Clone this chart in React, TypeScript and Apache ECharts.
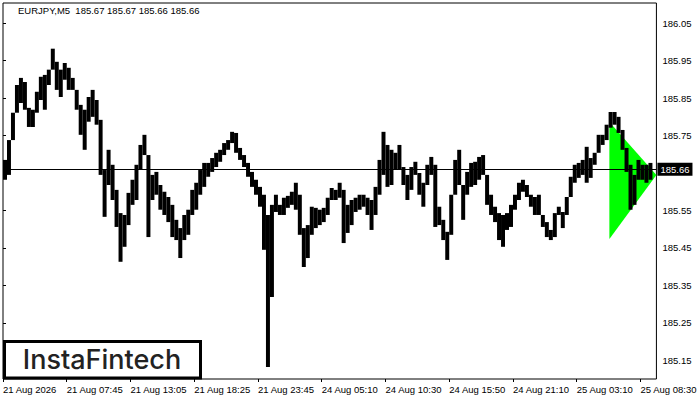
import React, { useEffect, useRef } from "react";
import * as echarts from "echarts";

const chartTitle = "EURJPY,M5  185.67 185.67 185.66 185.66";
const timeLabels = [
  "21 Aug 2026", "21 Aug 07:45", "21 Aug 13:05", "21 Aug 18:25", "21 Aug 23:45",
  "24 Aug 05:10", "24 Aug 10:30", "24 Aug 15:50", "24 Aug 21:10", "25 Aug 03:10", "25 Aug 08:30",
];
const slotsPerLabel = 16;
const totalSlots = 164;
const priceTicks = [185.15, 185.25, 185.35, 185.45, 185.55, 185.65, 185.75, 185.85, 185.95, 186.05];
// the 185.65 label sits under the current-price box, so it is not written
const hiddenPriceLabel = 185.65;
const priceMin = 185.1;
const priceMax = 186.104;
const lastPrice = 185.663;

// each slot groups a few M5 bars: high and low of the slot
const highs = [
  185.685, 185.738, 185.800, 185.885, 185.904, 185.893, 185.824, 185.819, 185.867, 185.907,
  185.912, 185.926, 185.982, 185.947, 185.926, 185.944, 185.931, 185.904, 185.872, 185.832,
  185.819, 185.853, 185.872, 185.845, 185.792, 185.658, 185.712, 185.672, 185.605, 185.543,
  185.538, 185.597, 185.632, 185.672, 185.725, 185.752, 185.698, 185.645, 185.653, 185.618,
  185.600, 185.586, 185.565, 185.525, 185.503, 185.538, 185.552, 185.605, 185.624, 185.658,
  185.677, 185.677, 185.690, 185.704, 185.712, 185.730, 185.738, 185.760, 185.757, 185.717,
  185.698, 185.677, 185.653, 185.632, 185.613, 185.592, 185.538, 185.565, 185.592, 185.565,
  185.584, 185.589, 185.600, 185.624, 185.592, 185.503, 185.511, 185.560, 185.557, 185.552,
  185.557, 185.584, 185.610, 185.605, 185.624, 185.605, 185.565, 185.578, 185.584, 185.592,
  185.592, 185.584, 185.578, 185.613, 185.685, 185.760, 185.725, 185.712, 185.704, 185.725,
  185.666, 185.645, 185.666, 185.680, 185.650, 185.624, 185.672, 185.693, 185.672, 185.560,
  185.525, 185.493, 185.578, 185.685, 185.712, 185.618, 185.653, 185.677, 185.680, 185.693,
  185.698, 185.645, 185.592, 185.560, 185.543, 185.538, 185.543, 185.565, 185.592, 185.624,
  185.632, 185.618, 185.592, 185.586, 185.592, 185.538, 185.519, 185.498, 185.543, 185.560,
  185.546, 185.586, 185.640, 185.672, 185.677, 185.685, 185.720, 185.690, 185.704, 185.752,
  185.752, 185.779, 185.813, 185.813, 185.800, 185.765, 185.717, 185.672, 185.645, 185.685,
  185.672, 185.672, 185.677,
];
const lows = [
  185.632, 185.645, 185.738, 185.811, 185.837, 185.819, 185.773, 185.773, 185.811, 185.845,
  185.819, 185.885, 185.926, 185.872, 185.853, 185.899, 185.872, 185.872, 185.819, 185.752,
  185.712, 185.787, 185.800, 185.779, 185.645, 185.533, 185.618, 185.578, 185.506, 185.413,
  185.453, 185.511, 185.565, 185.578, 185.658, 185.712, 185.479, 185.578, 185.592, 185.552,
  185.538, 185.519, 185.479, 185.471, 185.423, 185.471, 185.485, 185.538, 185.552, 185.592,
  185.613, 185.640, 185.653, 185.666, 185.680, 185.698, 185.712, 185.730, 185.704, 185.685,
  185.666, 185.640, 185.613, 185.592, 185.560, 185.445, 185.132, 185.319, 185.546, 185.538,
  185.538, 185.557, 185.565, 185.552, 185.485, 185.399, 185.423, 185.485, 185.503, 185.511,
  185.519, 185.538, 185.578, 185.578, 185.584, 185.463, 185.490, 185.511, 185.546, 185.552,
  185.560, 185.538, 185.498, 185.538, 185.592, 185.645, 185.613, 185.618, 185.658, 185.658,
  185.618, 185.578, 185.605, 185.645, 185.592, 185.560, 185.618, 185.645, 185.506, 185.511,
  185.471, 185.418, 185.485, 185.592, 185.618, 185.525, 185.592, 185.613, 185.618, 185.632,
  185.645, 185.565, 185.538, 185.519, 185.471, 185.453, 185.498, 185.506, 185.552, 185.578,
  185.600, 185.586, 185.560, 185.538, 185.565, 185.506, 185.479, 185.471, 185.479, 185.538,
  185.503, 185.538, 185.586, 185.624, 185.637, 185.645, 185.624, 185.637, 185.672, 185.704,
  185.725, 185.738, 185.771, 185.779, 185.757, 185.712, 185.653, 185.552, 185.565, 185.632,
  185.632, 185.624, 185.632,
];

// bullish pennant (triangle) vertices
const pennantSlot = [152.2, 152.2, 164];
const pennantPrice = [185.786, 185.474, 185.645];

const FONT = "Liberation Sans";

export default function App() {
  const ref = useRef<HTMLDivElement>(null);

  useEffect(() => {
    document.body.style.margin = "0";
    if (!ref.current) return;
    const chart = echarts.init(ref.current, undefined, { renderer: "svg" });

    const tickSlots = timeLabels.map((_, i) => i * slotsPerLabel);
    const barData = highs.map((h, i) => [i + 0.5, lows[i], h]);
    const pennantData = pennantSlot.map((s, i) => [s, pennantPrice[i]]);

    chart.setOption({
      animation: false,
      backgroundColor: "#fff",
      grid: {
        left: 3,
        top: 3,
        right: 41,
        bottom: 21,
        show: true,
        borderColor: "#000",
        borderWidth: 1,
        backgroundColor: "transparent",
      },
      xAxis: {
        type: "value",
        min: 0,
        max: totalSlots,
        axisLine: { show: false },
        splitLine: { show: false },
        axisTick: {
          show: true,
          customValues: tickSlots,
          length: 3,
          lineStyle: { color: "#000" },
        },
        axisLabel: {
          customValues: tickSlots,
          formatter: (v: number) => timeLabels[Math.round(v / slotsPerLabel)] ?? "",
          align: "left",
          margin: 5,
          fontSize: 9.5,
          fontFamily: FONT,
          color: "#000",
        },
      },
      yAxis: {
        type: "value",
        position: "right",
        min: priceMin,
        max: priceMax,
        axisLine: { show: false },
        splitLine: { show: false },
        axisTick: {
          show: true,
          customValues: priceTicks,
          length: 3,
          lineStyle: { color: "#000" },
        },
        axisLabel: {
          customValues: priceTicks.filter((t) => t !== hiddenPriceLabel),
          formatter: (v: number) => v.toFixed(2),
          margin: 6,
          fontSize: 9.5,
          fontFamily: FONT,
          color: "#000",
        },
      },
      series: [
        {
          type: "custom",
          z: 1,
          silent: true,
          data: pennantData,
          encode: { x: 0, y: 1 },
          renderItem: (params: any, api: any) => {
            if (params.dataIndex !== 0) return null;
            const pts = pennantData.map((p) => api.coord(p));
            return {
              type: "polygon",
              shape: { points: pts },
              style: { fill: "#00ff00", stroke: "none" },
            };
          },
        },
        {
          type: "custom",
          z: 3,
          silent: true,
          data: barData,
          encode: { x: 0, y: [1, 2] },
          renderItem: (params: any, api: any) => {
            const i = params.dataIndex;
            const x = api.value(0);
            let lo = api.value(1);
            let hi = api.value(2);
            // keep the price ribbon continuous with the next slot
            if (i + 1 < highs.length) {
              if (lows[i + 1] > hi) hi = lows[i + 1];
              if (highs[i + 1] < lo) lo = highs[i + 1];
            }
            const top = api.coord([x, hi]);
            const bot = api.coord([x, lo]);
            const w = api.size([1, 0])[0];
            return {
              type: "rect",
              shape: {
                x: top[0] - w / 2,
                y: top[1],
                width: w,
                height: Math.max(1, bot[1] - top[1]),
              },
              style: { fill: "#000" },
            };
          },
        },
        {
          type: "line",
          z: 4,
          data: [],
          silent: true,
          markLine: {
            silent: true,
            symbol: ["none", "none"],
            lineStyle: { color: "#000", width: 1, type: "solid" },
            data: [{ yAxis: lastPrice }],
            label: {
              show: true,
              position: "end",
              distance: 1,
              formatter: () => lastPrice.toFixed(2),
              backgroundColor: "#000",
              color: "#fff",
              padding: [2, 3, 1, 3],
              fontSize: 9.5,
              fontFamily: FONT,
            },
          },
        },
      ],
      graphic: [
        {
          type: "text",
          left: 18,
          top: 5,
          style: { text: chartTitle, fontSize: 9.5, fontFamily: FONT, fill: "#000" },
        },
        {
          type: "rect",
          z: 100,
          shape: { x: 4.5, y: 341.5, width: 196, height: 36.5 },
          style: { fill: "#fff", stroke: "#000", lineWidth: 3 },
        },
        {
          type: "text",
          z: 101,
          x: 102,
          y: 359,
          style: {
            text: "InstaFintech",
            fontSize: 27,
            fontFamily: "Inter",
            fontWeight: 500,
            fill: "#222",
            align: "center",
            verticalAlign: "middle",
          },
        },
      ],
    });

    return () => chart.dispose();
  }, []);

  return <div ref={ref} style={{ width: 700, height: 400 }} />;
}
